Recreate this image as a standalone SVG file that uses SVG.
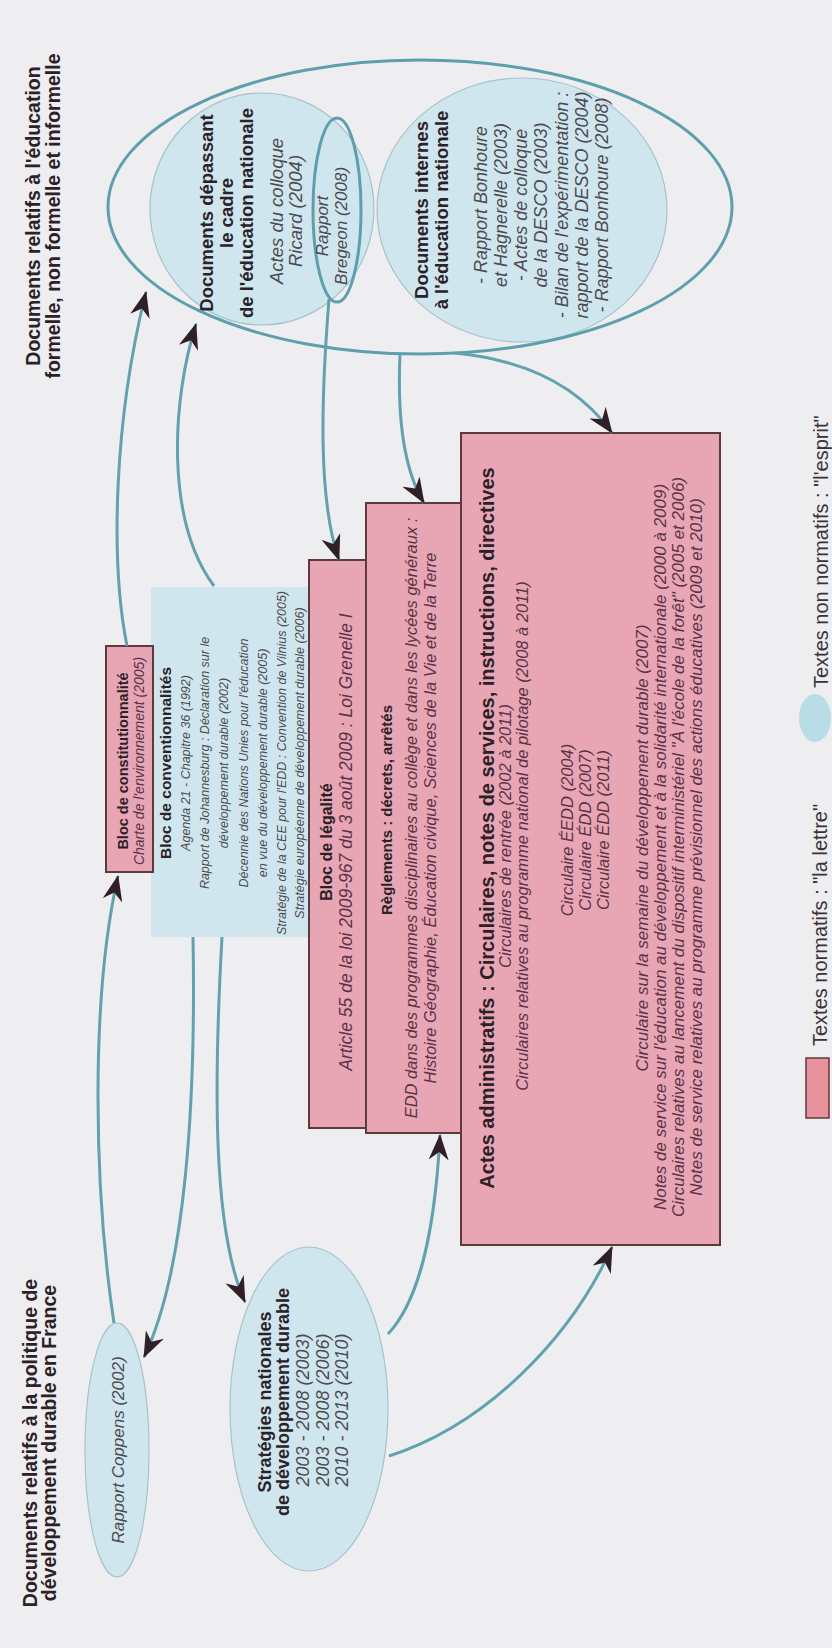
<svg xmlns="http://www.w3.org/2000/svg" width="832" height="1648" viewBox="0 0 832 1648">
<defs>
<style>
text{font-family:"Liberation Sans",Arial,sans-serif;fill:#2a2226}
.b{font-weight:bold}
.i{font-style:italic;fill:#4d4a50}
.ip{font-style:italic;fill:#5a3344}
.r{fill:#3a3336}
.pink{fill:#e8a6b5;stroke:#5a3a3c;stroke-width:2}
.blue{fill:#cfe6ee;stroke:#a7c3c9;stroke-width:1.2}
.bluebox{fill:#cfe6ee;stroke:none}
.ring{fill:none;stroke:#5c9fad;stroke-width:3}
.conn{fill:none;stroke:#5fa2b0;stroke-width:3;marker-end:url(#ah)}
</style>
<marker id="ah" viewBox="0 0 26 20" refX="25" refY="10" markerWidth="26" markerHeight="20" markerUnits="userSpaceOnUse" orient="auto">
<path d="M0,0 L26,10 L0,20 L8,10 Z" fill="#2e2026"/>
</marker>
</defs>
<rect x="0" y="0" width="832" height="1648" fill="#eeeef0"/>

<g id="title-education">
<text class="b" font-size="19.5" text-anchor="middle" transform="translate(40,216) rotate(-90)"><tspan x="0" y="0">Documents relatifs à l'éducation</tspan><tspan x="0" y="20">formelle, non formelle et informelle</tspan></text>
</g>

<g id="title-politique">
<text class="b" font-size="19.5" text-anchor="middle" transform="translate(37,1443) rotate(-90)"><tspan x="0" y="0">Documents relatifs à la politique de</tspan><tspan x="0" y="19">développement durable en France</tspan></text>
</g>

<g id="docs-depassant">
<ellipse class="blue" cx="262" cy="209" rx="112" ry="116"/>
<text class="b" font-size="18.5" text-anchor="middle" transform="translate(213,213) rotate(-90)"><tspan x="0" y="0">Documents dépassant</tspan><tspan x="0" y="20">le cadre</tspan><tspan x="0" y="40">de l'éducation nationale</tspan></text>
<text class="i" font-size="18.5" text-anchor="middle" transform="translate(283,211) rotate(-90)"><tspan x="0" y="0">Actes du colloque</tspan><tspan x="0" y="19">Ricard (2004)</tspan></text>
</g>

<g id="docs-internes">
<ellipse class="blue" cx="522" cy="210" rx="145" ry="132"/>
<text class="b" font-size="18.5" text-anchor="middle" transform="translate(428,210) rotate(-90)"><tspan x="0" y="0">Documents internes</tspan><tspan x="0" y="20">à l'éducation nationale</tspan></text>
<text class="i" font-size="18" text-anchor="middle" transform="translate(487,205) rotate(-90)"><tspan x="0" y="0">- Rapport Bonhoure</tspan><tspan x="0" y="20">et Hagnerelle (2003)</tspan><tspan x="0" y="40">- Actes de colloque</tspan><tspan x="0" y="60">de la DESCO (2003)</tspan><tspan x="0" y="81">- Bilan de l'expérimentation :</tspan><tspan x="0" y="101">rapport de la DESCO (2004)</tspan><tspan x="0" y="121">- Rapport Bonhoure (2008)</tspan></text>
</g>

<g id="rapport-bregeon">
<ellipse class="ring" cx="337" cy="210" rx="24" ry="92"/>
<text class="i" font-size="17" text-anchor="middle" transform="translate(328,226) rotate(-90)"><tspan x="0" y="0">Rapport</tspan><tspan x="0" y="19">Bregeon (2008)</tspan></text>
</g>

<g id="docs-education-formelle">
<ellipse class="ring" cx="420" cy="207" rx="312" ry="147"/>
</g>

<g id="bloc-conventionnalites">
<rect class="bluebox" x="151" y="587" width="170" height="350"/>
<text class="b" font-size="15.5" text-anchor="middle" transform="translate(171,763) rotate(-90)">Bloc de conventionnalités</text>
<text class="i" font-size="12.5" text-anchor="middle" transform="translate(190,763) rotate(-90)"><tspan x="0" y="0">Agenda 21 - Chapitre 36 (1992)</tspan><tspan x="0" y="19">Rapport de Johannesburg : Déclaration sur le</tspan><tspan x="0" y="38">développement durable (2002)</tspan><tspan x="0" y="58">Décennie des Nations Unies pour l'éducation</tspan><tspan x="0" y="77">en vue du développement durable (2005)</tspan><tspan x="0" y="96">Stratégie de la CEE pour l'EDD : Convention de Vilnius (2005)</tspan><tspan x="0" y="114">Stratégie européenne de développement durable (2006)</tspan></text>
</g>

<g id="bloc-constitutionnalite">
<rect class="pink" x="106" y="646" width="47" height="226"/>
<text class="b" font-size="14.5" text-anchor="middle" transform="translate(128,761) rotate(-90)">Bloc de constitutionnalité</text>
<text class="ip" font-size="14" text-anchor="middle" transform="translate(144,761) rotate(-90)">Charte de l'environnement (2005)</text>
</g>

<g id="bloc-legalite">
<rect class="pink" x="309" y="560" width="57" height="568"/>
<text class="b" font-size="16" text-anchor="middle" transform="translate(332,842) rotate(-90)">Bloc de légalité</text>
<text class="ip" font-size="17.5" text-anchor="middle" transform="translate(352,842) rotate(-90)">Article 55 de la loi 2009-967 du 3 août 2009 : Loi Grenelle I</text>
</g>

<g id="reglements">
<rect class="pink" x="366" y="503" width="96" height="630"/>
<text class="b" font-size="15" text-anchor="middle" transform="translate(392,810) rotate(-90)">Règlements : décrets, arrêtés</text>
<text class="ip" font-size="16.5" text-anchor="middle" transform="translate(417,818) rotate(-90)"><tspan x="0" y="0">EDD dans des programmes disciplinaires au collège et dans les lycées généraux :</tspan><tspan x="0" y="19">Histoire Géographie, Éducation civique, Sciences de la Vie et de la Terre</tspan></text>
</g>

<g id="actes-administratifs">
<rect class="pink" x="461" y="433" width="259" height="812"/>
<text class="b" font-size="20" text-anchor="middle" transform="translate(494,828) rotate(-90)">Actes administratifs : Circulaires, notes de services, instructions, directives</text>
<text class="ip" font-size="16.5" text-anchor="middle" transform="translate(511,836) rotate(-90)">Circulaires de rentrée (2002 à 2011)</text>
<text class="ip" font-size="16.5" text-anchor="middle" transform="translate(528,836) rotate(-90)">Circulaires relatives au programme national de pilotage (2008 à 2011)</text>
<text class="ip" font-size="16.5" text-anchor="middle" transform="translate(573,830) rotate(-90)"><tspan x="0" y="0">Circulaire ÉEDD (2004)</tspan><tspan x="0" y="18">Circulaire ÉDD (2007)</tspan><tspan x="0" y="36">Circulaire ÉDD (2011)</tspan></text>
<text class="ip" font-size="17" text-anchor="middle" transform="translate(648,848) rotate(-90)">Circulaire sur la semaine du développement durable (2007)</text>
<text class="ip" font-size="17" text-anchor="middle" transform="translate(666,847) rotate(-90)"><tspan x="0" y="0">Notes de service sur l'éducation au développement et à la solidarité internationale (2000 à 2009)</tspan><tspan x="0" y="18">Circulaires relatives au lancement du dispositif interministériel "À l'école de la forêt" (2005 et 2006)</tspan><tspan x="0" y="36">Notes de service relatives au programme prévisionnel des actions éducatives (2009 et 2010)</tspan></text>
</g>

<g id="rapport-coppens">
<ellipse class="blue" cx="117" cy="1450" rx="32" ry="127"/>
<text class="i" font-size="17" text-anchor="middle" transform="translate(124,1450) rotate(-90)">Rapport Coppens (2002)</text>
</g>

<g id="strategies-nationales">
<ellipse class="blue" cx="309" cy="1409" rx="79" ry="162"/>
<text class="b" font-size="18" text-anchor="middle" transform="translate(271,1402) rotate(-90)"><tspan x="0" y="0">Stratégies nationales</tspan><tspan x="0" y="18">de développement durable</tspan></text>
<text class="i" font-size="18" text-anchor="middle" transform="translate(309,1410) rotate(-90)"><tspan x="0" y="0">2003 - 2008 (2003)</tspan><tspan x="0" y="19.5">2003 - 2008 (2006)</tspan><tspan x="0" y="39">2010 - 2013 (2010)</tspan></text>
</g>

<g id="connectors">
<path class="conn" d="M114,1323 C94,1190 90,1000 118,876"/>
<path class="conn" d="M127,646 C110,560 114,420 146,292"/>
<path class="conn" d="M214,586 C165,520 172,400 196,324"/>
<path class="conn" d="M329,299 C321,400 318,500 339,560"/>
<path class="conn" d="M400,354 C397,420 404,470 424,503"/>
<path class="conn" d="M455,353 C525,360 578,385 612,433"/>
<path class="conn" d="M193,937 C196,1100 186,1270 144,1357"/>
<path class="conn" d="M222,937 C214,1080 212,1230 245,1302"/>
<path class="conn" d="M388,1334 C420,1300 435,1230 440,1135"/>
<path class="conn" d="M389,1456 C485,1425 570,1340 612,1247"/>
</g>

<g id="legend">
<rect x="806" y="1058" width="23" height="60" fill="#e8929e" stroke="#5a3a3c" stroke-width="1.5"/>
<text class="r" font-size="20" text-anchor="start" transform="translate(827,1046) rotate(-90)">Textes normatifs : "la lettre"</text>
<ellipse cx="815" cy="718" rx="16" ry="24" fill="#b9dde6"/>
<text class="r" font-size="20" text-anchor="start" transform="translate(828,688) rotate(-90)">Textes non normatifs : "l'esprit"</text>
</g>
</svg>
